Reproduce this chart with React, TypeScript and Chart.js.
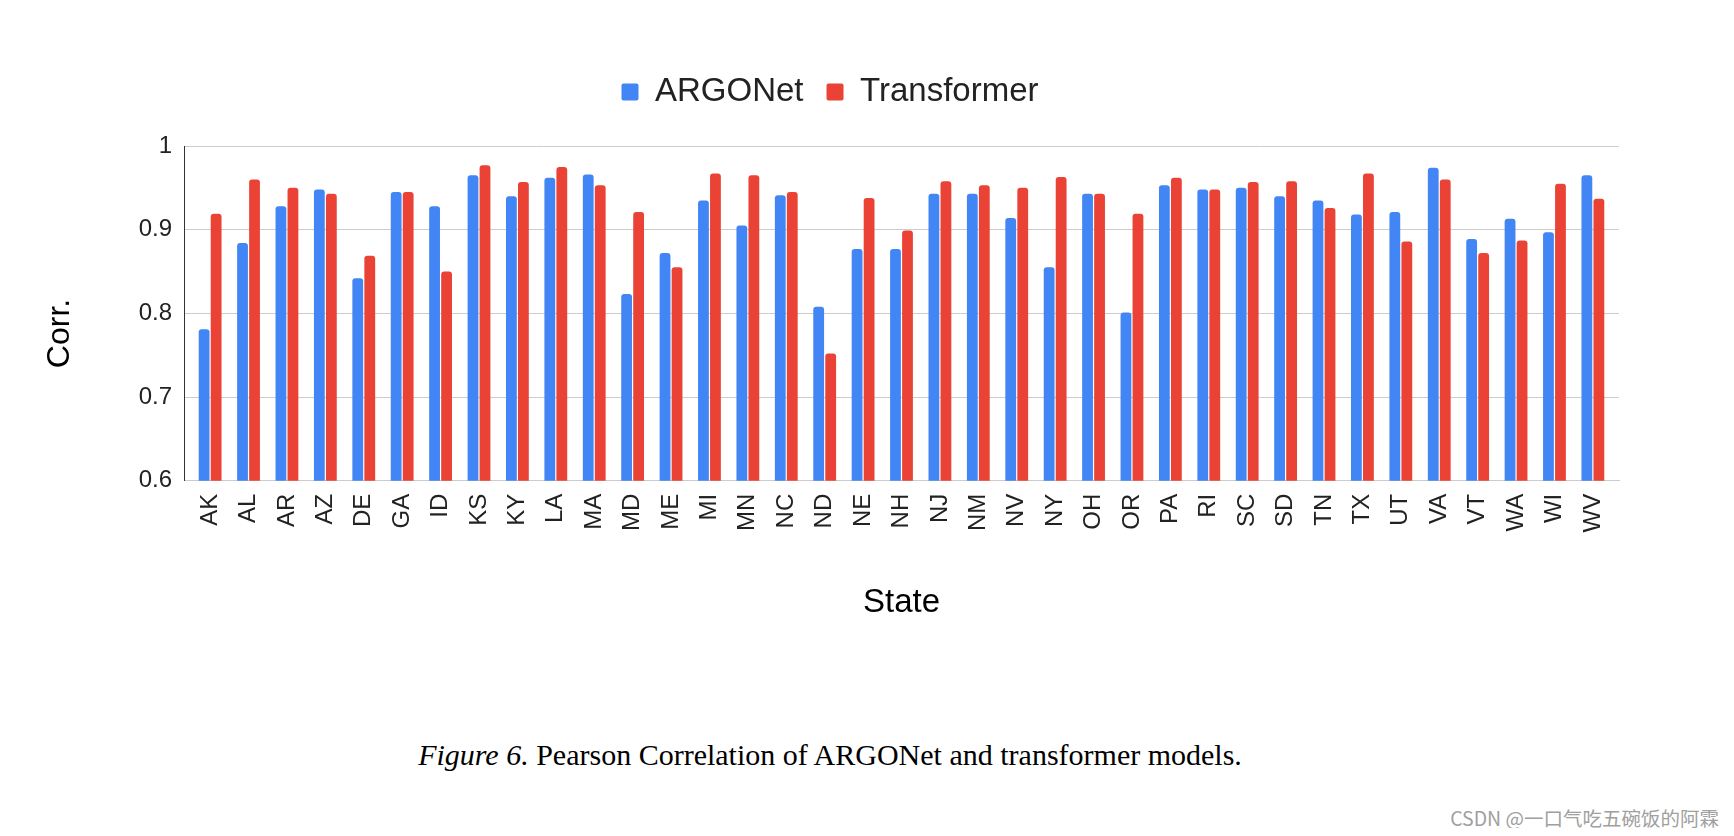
import React, { useEffect, useRef } from "react";
import { Chart, registerables, layouts } from "chart.js";

Chart.register(...registerables);

const states = [
  "AK", "AL", "AR", "AZ", "DE", "GA", "ID", "KS", "KY", "LA", "MA", "MD", "ME",
  "MI", "MN", "NC", "ND", "NE", "NH", "NJ", "NM", "NV", "NY", "OH", "OR", "PA",
  "RI", "SC", "SD", "TN", "TX", "UT", "VA", "VT", "WA", "WI", "WV",
];

const argonet = [
  0.781, 0.884, 0.928, 0.948, 0.842, 0.945, 0.928, 0.965, 0.94, 0.962, 0.966, 0.823, 0.872,
  0.935, 0.905, 0.941, 0.808, 0.877, 0.877, 0.943, 0.943, 0.914, 0.855, 0.943, 0.801, 0.953,
  0.948, 0.95, 0.94, 0.935, 0.918, 0.921, 0.974, 0.889, 0.913, 0.897, 0.965,
];

const transformer = [
  0.919, 0.96, 0.95, 0.943, 0.869, 0.945, 0.85, 0.977, 0.957, 0.975, 0.953, 0.921, 0.855,
  0.967, 0.965, 0.945, 0.752, 0.938, 0.899, 0.958, 0.953, 0.95, 0.963, 0.943, 0.919, 0.962,
  0.948, 0.957, 0.958, 0.926, 0.967, 0.886, 0.96, 0.872, 0.887, 0.955, 0.937,
];

const yTicks = [0.6, 0.7, 0.8, 0.9, 1];
const yTickLabels = ["0.6", "0.7", "0.8", "0.9", "1"];
const seriesNames = ["ARGONet", "Transformer"];
const seriesColors = ["#4285F4", "#EA4335"];
const xTitle = "State";
const yTitle = "Corr.";
const captionLead = "Figure 6.";
const captionRest = " Pearson Correlation of ARGONet and transformer models.";
const watermark = "CSDN @一口气吃五碗饭的阿霖";

const SANS = "'Liberation Sans', Arial, sans-serif";

export default function App() {
  const canvasRef = useRef<HTMLCanvasElement | null>(null);

  useEffect(() => {
    if (!canvasRef.current) return;
    Chart.defaults.font.family = SANS;

    const yTitlePlugin = {
      id: "yTitleCustom",
      afterDraw(chart: any) {
        const { ctx, chartArea } = chart;
        ctx.save();
        ctx.translate(52, chartArea.top + (chartArea.bottom - chartArea.top) * 0.56);
        ctx.rotate(-Math.PI / 2);
        ctx.font = `32px ${SANS}`;
        ctx.fillStyle = "#000";
        ctx.textAlign = "center";
        ctx.textBaseline = "middle";
        ctx.fillText(yTitle, 0, 0);
        ctx.restore();
      },
    };

    // empty layout box between the legend and the plot area
    const spacerPlugin = {
      id: "legendSpacer",
      beforeInit(chart: any) {
        const box: any = {
          position: "top",
          weight: 500,
          fullSize: true,
          options: {},
          left: 0,
          top: 0,
          right: 0,
          bottom: 0,
          width: 0,
          height: 0,
          isHorizontal() {
            return true;
          },
          update(maxWidth: number) {
            this.width = maxWidth;
            this.height = 27.5;
          },
          draw() {},
        };
        layouts.addBox(chart, box);
      },
    };

    const chart = new Chart(canvasRef.current, {
      type: "bar",
      data: {
        labels: states,
        datasets: [
          {
            label: seriesNames[0],
            data: argonet,
            backgroundColor: seriesColors[0],
            borderRadius: 3,
            borderSkipped: "bottom",
            categoryPercentage: 0.625,
            barPercentage: 0.9,
          },
          {
            label: seriesNames[1],
            data: transformer,
            backgroundColor: seriesColors[1],
            borderRadius: 3,
            borderSkipped: "bottom",
            categoryPercentage: 0.625,
            barPercentage: 0.9,
          },
        ],
      },
      options: {
        responsive: true,
        maintainAspectRatio: false,
        animation: false,
        layout: { padding: { left: 33, right: 33, top: 44.5, bottom: 0 } },
        plugins: {
          legend: {
            position: "top",
            labels: {
              boxWidth: 17,
              boxHeight: 17,
              padding: 23,
              color: "#222",
              font: { size: 33 },
              useBorderRadius: true,
              borderRadius: 2,
            },
          },
          tooltip: { enabled: false },
        },
        scales: {
          x: {
            afterBuildTicks: (s: any) => {
              s._startValue -= 0.18;
              s._valueRange += 0.36;
            },
            grid: { display: false, drawTicks: false },
            border: { display: true, color: "#cccccc" },
            ticks: {
              autoSkip: false,
              minRotation: 90,
              maxRotation: 90,
              padding: 13,
              color: "#222",
              font: { size: 24 },
            },
            title: {
              display: true,
              text: xTitle,
              color: "#000",
              font: { size: 33 },
              padding: { top: 38, bottom: 0 },
            },
          },
          y: {
            min: 0.6,
            max: 1,
            afterFit: (s: any) => {
              s.width = 143;
            },
            afterBuildTicks: (s: any) => {
              s.ticks = yTicks.map((v) => ({ value: v }));
            },
            grid: { color: "#cccccc", drawTicks: false },
            border: { display: true, color: "#333333" },
            ticks: {
              padding: 12,
              color: "#222",
              font: { size: 24 },
              callback: (v: any) => {
                const i = yTicks.findIndex((t) => Math.abs(t - Number(v)) < 1e-9);
                return i >= 0 ? yTickLabels[i] : String(v);
              },
            },
          },
        },
      },
      plugins: [spacerPlugin, yTitlePlugin],
    } as any);

    return () => chart.destroy();
  }, []);

  return (
    <div style={{ position: "relative", width: 1718, height: 820, background: "#fff" }}>
      <div style={{ position: "absolute", left: 0, top: 0, width: 1644, height: 615 }}>
        <canvas ref={canvasRef} />
      </div>
      <div
        style={{
          position: "absolute",
          left: 0,
          top: 732,
          width: 1644,
          textAlign: "center",
          fontFamily: "'Liberation Serif', 'Times New Roman', serif",
          fontSize: 30,
          lineHeight: "30px",
          color: "#000",
          whiteSpace: "nowrap",
        }}
      >
        <i>{captionLead}</i>
        {captionRest}
      </div>
      <div
        style={{
          position: "absolute",
          right: 7,
          top: 800,
          fontFamily: "'Noto Sans CJK SC', 'Noto Sans', sans-serif",
          fontSize: 19.5,
          lineHeight: "19.5px",
          color: "#a0a0a0",
          whiteSpace: "nowrap",
        }}
      >
        {watermark}
      </div>
    </div>
  );
}
